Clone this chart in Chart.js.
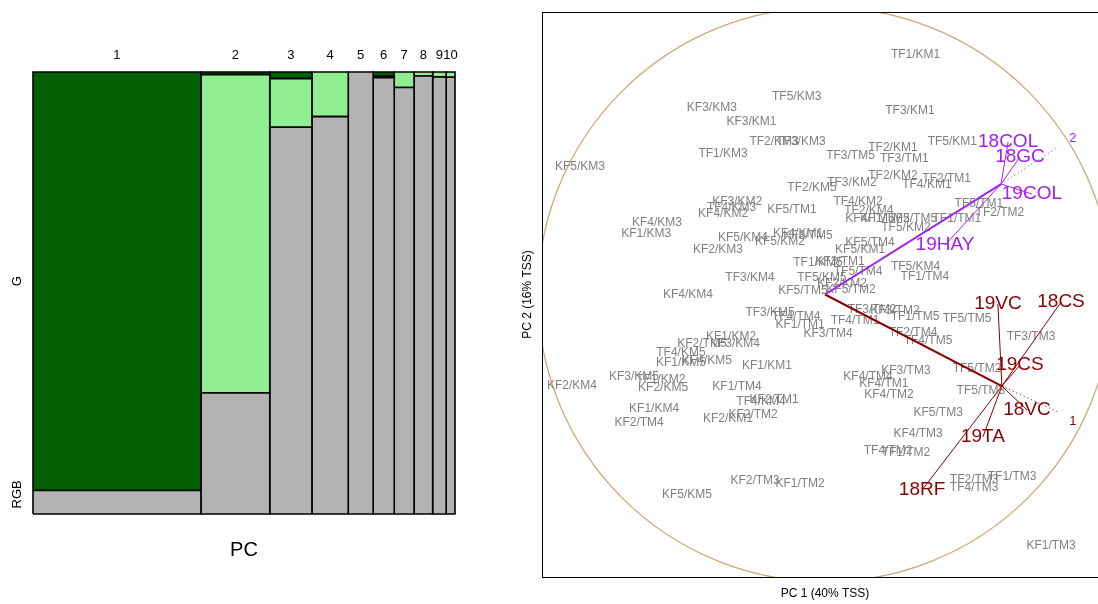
<!DOCTYPE html>
<html>
<head>
<meta charset="utf-8">
<script src="https://cdn.jsdelivr.net/npm/chart.js@4.4.1/dist/chart.umd.min.js"></script>
<style>
  html, body { margin: 0; padding: 0; background: #fff; overflow: hidden; width: 1098px; height: 604px; }
  #mosaic { position: absolute; left: 0; top: 0; }
  #biplot { position: absolute; left: 500px; top: 0; }
</style>
</head>
<body>
<canvas id="mosaic" width="480" height="604"></canvas>
<canvas id="biplot" width="620" height="604"></canvas>
<script>
// ---- variance per PC, split by block ----
let pcLabels = ['1', '2', '3', '4', '5', '6', '7', '8', '9', '10'];
let pcVariance = [39.8, 16.3, 10.0, 8.6, 5.9, 5.0, 4.7, 4.4, 3.2, 2.1];
let shareDark = [0.947, 0.006, 0.015, 0, 0, 0.010, 0, 0, 0, 0];
let shareLight = [0, 0.720, 0.110, 0.101, 0, 0.003, 0.035, 0.009, 0.011, 0.012];
let shareRGB = [0.053, 0.274, 0.875, 0.899, 1.0, 0.987, 0.965, 0.991, 0.989, 0.988];
let rowLabels = ['G', 'RGB'];

// ---- sample scores ----
let sampleNames = ['TF1/KM1','TF5/KM3','TF3/KM1','KF3/KM3','KF3/KM1','TF2/KM3','TF3/KM3','TF1/KM3','TF5/KM1','TF2/KM1',
  'TF3/TM5','TF3/TM1','TF2/KM2','TF2/TM1','TF4/KM1','TF3/KM2','TF2/KM5','KF3/KM2','TF4/KM3','KF4/KM2',
  'KF5/TM1','TF4/KM2','TF2/KM4','KF4/TM5','KF1/TM5','TF2/TM5','TF1/TM1','TF5/TM1','TF2/TM2','TF5/KM2',
  'KF5/TM4','KF5/KM1','KF3/TM1','TF1/KM5','TF5/TM4','TF5/KM5','KF2/KM2','KF5/TM5','KF5/TM2','TF5/KM4',
  'TF1/TM4','TF3/KM4','KF4/KM4','KF4/KM3','KF1/KM3','KF5/KM4','KF5/KM2','KF4/KM1','KF3/TM5','KF2/KM3',
  'KF5/KM3','TF3/KM5','TF4/TM4','KF1/TM1','KF3/TM4','TF4/TM1','TF3/TM2','KF3/TM2','TF1/TM5','TF5/TM5',
  'TF2/TM4','TF4/TM5','TF3/TM3','KF3/TM3','TF5/TM2','KF4/TM4','KF4/TM1','KF4/TM2','TF5/TM3','KF5/TM3',
  'KF4/TM3','TF4/TM2','TF1/TM2','TF1/TM3','TF2/TM3','TF4/TM3','KF1/TM3','KF5/KM5','KF2/TM3','KF1/TM2',
  'KF2/KM4','KF1/KM4','KF2/TM4','KF2/KM1','KF2/TM2','KF1/TM4','TF4/KM4','KF2/TM1','KF1/KM1','KF1/KM2',
  'KF2/TM5','KF3/KM4','TF4/KM5','KF1/KM5','KF4/KM5','KF3/KM5','TF1/KM2','KF2/KM5'];
let samplePC1 = [0.32,-0.10,0.30,-0.40,-0.26,-0.18,-0.085,-0.36,0.45,0.24,
  0.09,0.28,0.24,0.43,0.36,0.095,-0.046,-0.31,-0.33,-0.36,
  -0.117,0.117,0.155,0.159,0.212,0.31,0.466,0.544,0.618,0.286,
  0.159,0.124,0.053,-0.025,0.117,-0.011,0.06,-0.078,0.092,0.32,
  0.353,-0.265,-0.484,-0.594,-0.632,-0.29,-0.159,-0.095,-0.06,-0.378,
  -0.866,-0.194,-0.102,-0.088,0.011,0.106,0.166,0.247,0.318,0.502,
  0.311,0.364,0.728,0.286,0.537,0.152,0.208,0.226,0.551,0.40,
  0.329,0.223,0.286,0.661,0.527,0.527,0.799,-0.488,-0.247,-0.088,
  -0.894,-0.604,-0.657,-0.343,-0.254,-0.311,-0.226,-0.18,-0.205,-0.332,
  -0.435,-0.318,-0.509,-0.509,-0.417,-0.675,-0.58,-0.572];
let samplePC2 = [0.85,0.70,0.65,0.66,0.61,0.54,0.54,0.50,0.54,0.52,
  0.49,0.48,0.42,0.41,0.39,0.395,0.377,0.33,0.306,0.285,
  0.30,0.33,0.296,0.267,0.267,0.267,0.27,0.32,0.288,0.235,
  0.182,0.157,0.115,0.112,0.08,0.058,0.037,0.012,0.016,0.10,
  0.062,0.058,-0.002,0.253,0.214,0.20,0.186,0.214,0.207,0.158,
  0.451,-0.065,-0.08,-0.108,-0.14,-0.094,-0.055,-0.058,-0.08,-0.087,
  -0.136,-0.165,-0.15,-0.27,-0.264,-0.292,-0.317,-0.356,-0.342,-0.42,
  -0.494,-0.552,-0.561,-0.646,-0.657,-0.685,-0.89,-0.71,-0.66,-0.671,
  -0.324,-0.405,-0.455,-0.441,-0.427,-0.327,-0.381,-0.373,-0.253,-0.15,
  -0.175,-0.175,-0.207,-0.242,-0.235,-0.292,-0.303,-0.331];

// ---- variable blocks: centre of block, variables, block axis ----
let blockNames = ['2', '1'];
let blockColors = ['#a020f0', '#8b0000'];
let blockCentrePC1 = [0.622, 0.625];
let blockCentrePC2 = [0.391, -0.324];
let blockAxisPC1 = [0.823, 0.830];
let blockAxisPC2 = [0.522, -0.419];
let blockLabelPC1 = [0.876, 0.876];
let blockLabelPC2 = [0.554, -0.448];
let varNames = [['18COL', '18GC', '19COL', '19HAY'], ['19VC', '18CS', '19CS', '18VC', '19TA', '18RF']];
let varPC1 = [[0.647, 0.689, 0.731, 0.424], [0.611, 0.834, 0.689, 0.714, 0.558, 0.343]];
let varPC2 = [[0.540, 0.487, 0.356, 0.175], [-0.034, -0.027, -0.250, -0.409, -0.504, -0.692]];
let circleRadius = 1.015;

const FONT = '"Liberation Sans", Arial, Helvetica, sans-serif';

// ---------- mosaic of variance ----------
let mosaicSets = [];
let colLeft = 0;
pcVariance.forEach((w, i) => {
  let parts = [[shareRGB[i], '#b3b3b3'], [shareLight[i], '#90ee90'], [shareDark[i], '#006000']];
  let bottom = 0;
  parts.forEach(([h, col]) => {
    if (h <= 0) return;
    let top = Math.min(1, bottom + h);
    mosaicSets.push({
      data: [
        {x: colLeft, y: bottom}, {x: colLeft + w, y: bottom},
        {x: colLeft + w, y: top}, {x: colLeft, y: top}, {x: colLeft, y: bottom}
      ],
      showLine: true,
      fill: 'shape',
      backgroundColor: col,
      borderColor: '#000',
      borderWidth: 1.6,
      pointRadius: 0,
      tension: 0,
      clip: false
    });
    bottom = top;
  });
  colLeft += w;
});

const mosaicText = {
  id: 'mosaicText',
  afterDraw(chart) {
    const {ctx, chartArea: a, scales: {x, y}} = chart;
    ctx.save();
    ctx.fillStyle = '#000';
    ctx.textAlign = 'center';
    ctx.textBaseline = 'middle';
    ctx.font = '13px ' + FONT;
    let cum = 0;
    pcVariance.forEach((v, i) => {
      ctx.fillText(pcLabels[i], x.getPixelForValue(cum + v / 2), a.top - 17);
      cum += v;
    });
    // row labels sit on the first column
    let rowCentres = [(shareRGB[0] + 1) / 2, shareRGB[0] / 2 + 0.018];
    rowLabels.forEach((lab, k) => {
      ctx.save();
      ctx.translate(a.left - 16, y.getPixelForValue(rowCentres[k]));
      ctx.rotate(-Math.PI / 2);
      ctx.fillText(lab, 0, 0);
      ctx.restore();
    });
    ctx.font = '20px ' + FONT;
    ctx.fillText('PC', (a.left + a.right) / 2, a.bottom + 36);
    ctx.restore();
  }
};

new Chart(document.getElementById('mosaic'), {
  type: 'scatter',
  data: {datasets: mosaicSets},
  options: {
    responsive: false,
    animation: false,
    events: [],
    layout: {padding: {left: 33, right: 25, top: 72, bottom: 90}},
    scales: {
      x: {type: 'linear', min: 0, max: 100, display: false},
      y: {type: 'linear', min: 0, max: 1, display: false}
    },
    plugins: {legend: {display: false}, tooltip: {enabled: false}}
  },
  plugins: [mosaicText]
});

// ---------- biplot ----------
let biplotSets = [];
biplotSets.push({
  data: sampleNames.map((n, i) => ({x: samplePC1[i], y: samplePC2[i]})),
  pointRadius: 0,
  showLine: false
});
blockNames.forEach((b, k) => {
  let hub = {x: blockCentrePC1[k], y: blockCentrePC2[k]};
  biplotSets.push({
    data: [{x: 0, y: 0}, hub],
    showLine: true, borderColor: blockColors[k], borderWidth: 2, pointRadius: 0
  });
  varNames[k].forEach((v, j) => {
    biplotSets.push({
      data: [hub, {x: varPC1[k][j], y: varPC2[k][j]}],
      showLine: true, borderColor: blockColors[k], borderWidth: 1, pointRadius: 0
    });
  });
  biplotSets.push({
    data: [hub, {x: blockAxisPC1[k], y: blockAxisPC2[k]}],
    showLine: true, borderColor: blockColors[k], borderWidth: 1, borderDash: [1, 3], pointRadius: 0
  });
});

const biplotText = {
  id: 'biplotText',
  beforeDatasetsDraw(chart) {
    const {ctx, chartArea: a, scales: {x, y}} = chart;
    ctx.save();
    ctx.beginPath();
    ctx.rect(a.left, a.top, a.right - a.left, a.bottom - a.top);
    ctx.clip();
    ctx.strokeStyle = '#cfa878';
    ctx.lineWidth = 1.3;
    ctx.beginPath();
    let cx = x.getPixelForValue(0), cy = y.getPixelForValue(0);
    ctx.arc(cx, cy, x.getPixelForValue(circleRadius) - cx, 0, Math.PI * 2);
    ctx.stroke();
    ctx.restore();

    ctx.save();
    ctx.fillStyle = '#808080';
    ctx.textAlign = 'center';
    ctx.textBaseline = 'middle';
    ctx.font = '12px ' + FONT;
    const meta = chart.getDatasetMeta(0);
    meta.data.forEach((pt, i) => ctx.fillText(sampleNames[i], pt.x, pt.y));
    ctx.restore();
  },
  afterDatasetsDraw(chart) {
    const {ctx, scales: {x, y}} = chart;
    ctx.save();
    ctx.textAlign = 'center';
    ctx.textBaseline = 'middle';
    blockNames.forEach((b, k) => {
      ctx.fillStyle = blockColors[k];
      ctx.font = '19px ' + FONT;
      varNames[k].forEach((v, j) => {
        ctx.fillText(v, x.getPixelForValue(varPC1[k][j]), y.getPixelForValue(varPC2[k][j]));
      });
      ctx.font = '13px ' + FONT;
      ctx.fillText(b, x.getPixelForValue(blockLabelPC1[k]), y.getPixelForValue(blockLabelPC2[k]));
    });
    ctx.restore();
  },
  afterDraw(chart) {
    const {ctx, chartArea: a} = chart;
    ctx.save();
    ctx.strokeStyle = '#000';
    ctx.lineWidth = 1;
    ctx.strokeRect(a.left + 0.5, a.top + 0.5, a.right - a.left, a.bottom - a.top);
    ctx.fillStyle = '#000';
    ctx.textAlign = 'center';
    ctx.textBaseline = 'middle';
    ctx.font = '12px ' + FONT;
    ctx.fillText('PC 1 (40% TSS)', (a.left + a.right) / 2, a.bottom + 17);
    ctx.translate(a.left - 14, (a.top + a.bottom) / 2);
    ctx.rotate(-Math.PI / 2);
    ctx.fillText('PC 2 (16% TSS)', 0, 0);
    ctx.restore();
  }
};

new Chart(document.getElementById('biplot'), {
  type: 'scatter',
  data: {datasets: biplotSets},
  options: {
    responsive: false,
    animation: false,
    events: [],
    layout: {padding: {left: 42, right: 12, top: 12, bottom: 27}},
    scales: {
      x: {type: 'linear', min: -1, max: 1, display: false},
      y: {type: 'linear', min: -1, max: 1, display: false}
    },
    plugins: {legend: {display: false}, tooltip: {enabled: false}}
  },
  plugins: [biplotText]
});
</script>
</body>
</html>
